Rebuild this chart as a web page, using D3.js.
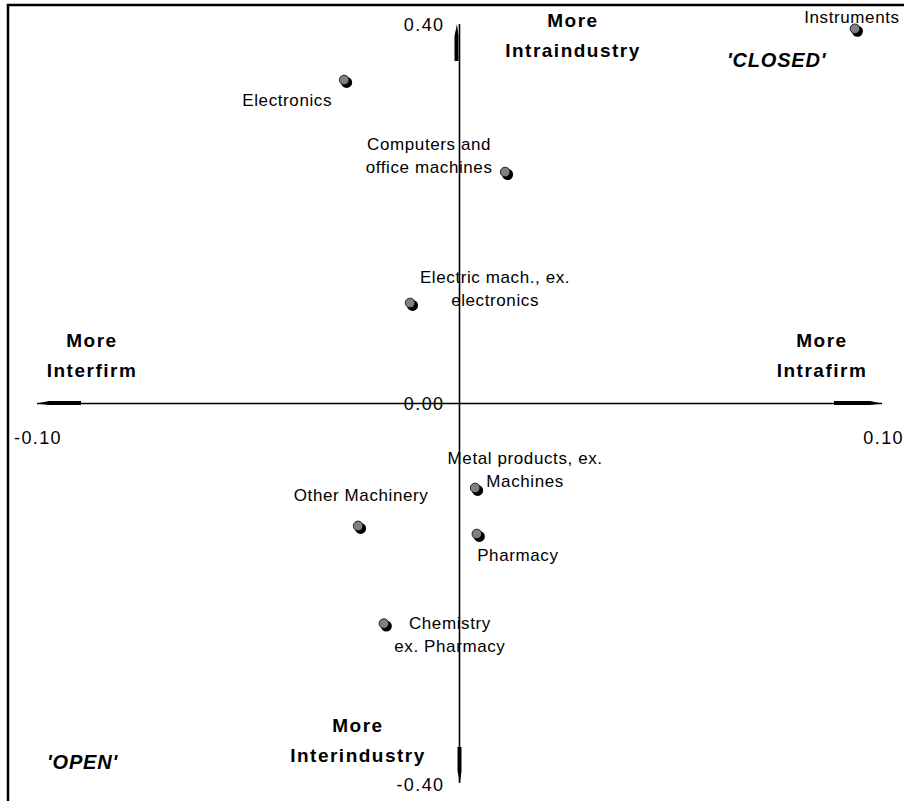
<!DOCTYPE html>
<html><head><meta charset="utf-8">
<script src="https://cdn.jsdelivr.net/npm/d3@7"></script>
<style>body{margin:0;background:#fff}svg{display:block}text{font-family:"Liberation Sans",Arial,sans-serif}</style>
</head><body><svg id="c" width="904" height="801"></svg>
<script>
const industries = ["Electronics","Computers and office machines","Electric mach., ex. electronics","Instruments","Metal products, ex. Machines","Other Machinery","Pharmacy","Chemistry ex. Pharmacy"];
const intrafirm = [-0.0273, 0.0108, -0.0117, 0.0936, 0.0037, -0.0240, 0.0041, -0.0179];
const intraindustry = [0.341, 0.244, 0.106, 0.395, -0.089, -0.129, -0.1375, -0.232];
const xTicks = [-0.10, 0.00, 0.10];
const yTicks = [-0.40, 0.00, 0.40];

// label text lines and layout (offset from point)
const labelLines = [["Electronics"],["Computers and","office machines"],["Electric mach., ex.","electronics"],["Instruments"],["Metal products, ex.","Machines"],["Other Machinery"],["Pharmacy"],["Chemistry","ex. Pharmacy"]];
const labelLayout = [
  {dx:-57,dy:26},
  {dx:-76,dy:-22},
  {dx:85,dy:-20},
  {dx:-3,dy:-6},
  {dx:50,dy:-24},
  {dx:3,dy:-25},
  {dx:41,dy:27},
  {dx:66,dy:5}
];

const svg = d3.select("#c");
const x = d3.scaleLinear().domain([-0.1,0.1]).range([37,882]);
const y = d3.scaleLinear().domain([-0.4,0.4]).range([783,24]);
const x0 = x(0), y0 = y(0);

// frame (partly cropped)
svg.append("rect").attr("x",8).attr("y",5).attr("width",920).attr("height",820)
  .attr("fill","none").attr("stroke","#000").attr("stroke-width",2.5);

// axes
svg.append("line").attr("x1",x(-0.1)).attr("x2",x(0.1)).attr("y1",y0).attr("y2",y0).attr("stroke","#000").attr("stroke-width",1.6);
svg.append("line").attr("x1",x0).attr("x2",x0).attr("y1",y(0.4)).attr("y2",y(-0.4)).attr("stroke","#000").attr("stroke-width",1.6);
// arrow heads
const ah = svg.append("g").attr("fill","#000").attr("stroke","none");
ah.append("path").attr("d",`M${x(-0.1)},${y0} L${x(-0.1)+12},${y0-2.5} L${x(-0.1)+44},${y0-2.5} L${x(-0.1)+44},${y0+1.5} L${x(-0.1)+12},${y0+1.5} Z`);
ah.append("path").attr("d",`M${x(0.1)},${y0} L${x(0.1)-12},${y0-2.5} L${x(0.1)-48},${y0-2.5} L${x(0.1)-48},${y0+1.5} L${x(0.1)-12},${y0+1.5} Z`);
ah.append("path").attr("d",`M${x0-2.5},${y(0.4)} L${x0-5},${y(0.4)+12} L${x0-5},${y(0.4)+37} L${x0-1},${y(0.4)+37} L${x0-1},${y(0.4)+12} Z`);
ah.append("path").attr("d",`M${x0+0.5},${y(-0.4)} L${x0-2},${y(-0.4)-12} L${x0-2},${y(-0.4)-36} L${x0+2},${y(-0.4)-36} L${x0+2},${y(-0.4)-12} Z`);

// tick labels
const fmt = v => d3.format(".2f")(v).replace("\u2212","-");
svg.append("g").attr("font-size",18).attr("letter-spacing",1.4).selectAll("text").data(yTicks).join("text")
  .attr("x",x0-15).attr("y",d=>y(d)+(d>0?7:(d<0?8:6))).attr("text-anchor","end")
  .text(d=>fmt(d));
svg.append("g").attr("font-size",18).attr("letter-spacing",1.4).selectAll("text").data(xTicks.filter(d=>d!==0)).join("text")
  .attr("x",d=>d<0?14:904).attr("y",y0+40).attr("text-anchor",d=>d<0?"start":"end")
  .text(d=>fmt(d));

// points
const pts = industries.map((n,i)=>({n,x:intrafirm[i],y:intraindustry[i],lines:labelLines[i],lay:labelLayout[i]}));
const g = svg.append("g");
g.selectAll("circle.s").data(pts).join("circle").attr("class","s")
  .attr("cx",d=>x(d.x)+2.5).attr("cy",d=>y(d.y)+2.5).attr("r",5.5).attr("fill","#000");
g.selectAll("circle.f").data(pts).join("circle").attr("class","f")
  .attr("cx",d=>x(d.x)).attr("cy",d=>y(d.y)).attr("r",4.8).attr("fill","#808080").attr("stroke","#000").attr("stroke-width",0.8);

// point labels
const lab = svg.append("g").attr("font-size",17).attr("letter-spacing",0.6);
pts.forEach(d=>{
  const t = lab.append("text").attr("text-anchor","middle");
  d.lines.forEach((l,k)=>{
    t.append("tspan").attr("x",x(d.x)+d.lay.dx).attr("y",y(d.y)+d.lay.dy+k*23).text(l);
  });
});

// direction annotations
const ann = [
  {lines:["More","Intraindustry"],cx:573,cy:27},
  {lines:["More","Interfirm"],cx:92,cy:347},
  {lines:["More","Intrafirm"],cx:822,cy:347},
  {lines:["More","Interindustry"],cx:358,cy:732}
];
const ag = svg.append("g").attr("font-size",19).attr("font-weight","bold").attr("letter-spacing",1.5);
ann.forEach(a=>{
  const t = ag.append("text").attr("text-anchor","middle");
  a.lines.forEach((l,k)=>t.append("tspan").attr("x",a.cx).attr("y",a.cy+k*30).text(l));
});
svg.append("text").attr("x",727).attr("y",67).attr("font-size",20).attr("font-weight","bold").attr("font-style","italic").attr("letter-spacing",0.8).text("'CLOSED'");
svg.append("text").attr("x",47).attr("y",769).attr("font-size",20).attr("font-weight","bold").attr("font-style","italic").attr("letter-spacing",0.8).text("'OPEN'");
</script></body></html>
